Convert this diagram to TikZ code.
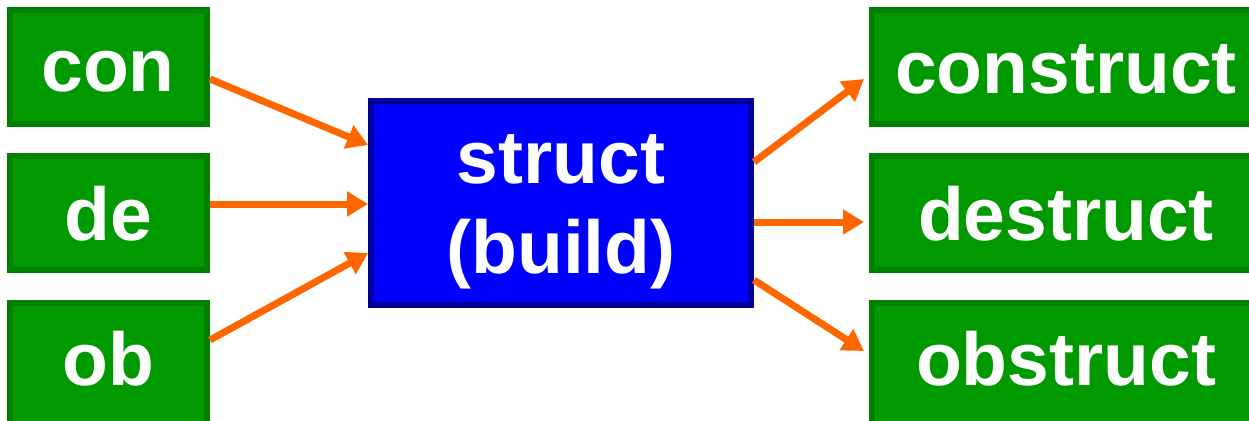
\documentclass[tikz,border=0pt]{standalone}
\usepackage{fontspec}
\setmainfont{Liberation Sans}
\usetikzlibrary{arrows.meta,calc}
\definecolor{gfill}{HTML}{009900}
\definecolor{gline}{HTML}{007F00}
\definecolor{bfill}{HTML}{0000FF}
\definecolor{bline}{HTML}{000099}
\definecolor{arr}{HTML}{FF6600}
\tikzset{
  gbox/.style={draw=gline, fill=gfill, line width=6pt, rectangle, inner sep=0pt},
  bbox/.style={draw=bline, fill=bfill, line width=6pt, rectangle, inner sep=0pt},
  lbl/.style={text=white, font=\fontsize{75}{90}\selectfont\bfseries, anchor=base, inner sep=0pt, align=center},
  conn/.style={draw=arr, line width=7pt, -{Triangle[length=21pt,width=24pt]}}
}
\begin{document}
\begin{tikzpicture}[x=1pt,y=-1pt]
\useasboundingbox (0,0) rectangle (1249,420);
% left boxes
\node[gbox, minimum width=197pt, minimum height=114pt] (con) at (108.5,67) {};
\node[gbox, minimum width=197pt, minimum height=114pt] (de) at (108.5,213) {};
\node[gbox, minimum width=197pt, minimum height=124pt] (ob) at (108.5,365) {};
% center box
\node[bbox, minimum width=380pt, minimum height=204pt] (root) at (561,203) {};
% right boxes
\node[gbox, minimum width=388pt, minimum height=114pt] (construct) at (1066,67) {};
\node[gbox, minimum width=388pt, minimum height=114pt] (destruct) at (1066,213) {};
\node[gbox, minimum width=388pt, minimum height=124pt] (obstruct) at (1066,365) {};
% labels
\node[lbl] (tcon) at (108,92) {con};
\node[lbl] (tde) at (108,240) {de};
\node[lbl] (tob) at (108.5,385) {ob};
\node[lbl] (tstruct) at (561,183) {struct};
\node[lbl] (tbuild) at (561,273) {(build)};
\node[lbl] (tconstruct) at (1066,93) {construct};
\node[lbl] (tdestruct) at (1066,240) {destruct};
\node[lbl] (tobstruct) at (1066,385) {obstruct};
% connectors
\draw[conn] ($(con.east)+(0,12)$) -- ($(root.west)+(0,-58)$);
\draw[conn] ($(de.east)+(0,-9)$) -- ($(root.west)+(0,1)$);
\draw[conn] ($(ob.east)+(0,-25)$) -- ($(root.west)+(0,50)$);
\draw[conn] ($(root.east)+(0,-41)$) -- ($(construct.west)+(-5,12)$);
\draw[conn] ($(root.east)+(0,19)$) -- ($(destruct.west)+(-5,9)$);
\draw[conn] ($(root.east)+(0,77)$) -- ($(obstruct.west)+(-5,-14)$);
\end{tikzpicture}
\end{document}
